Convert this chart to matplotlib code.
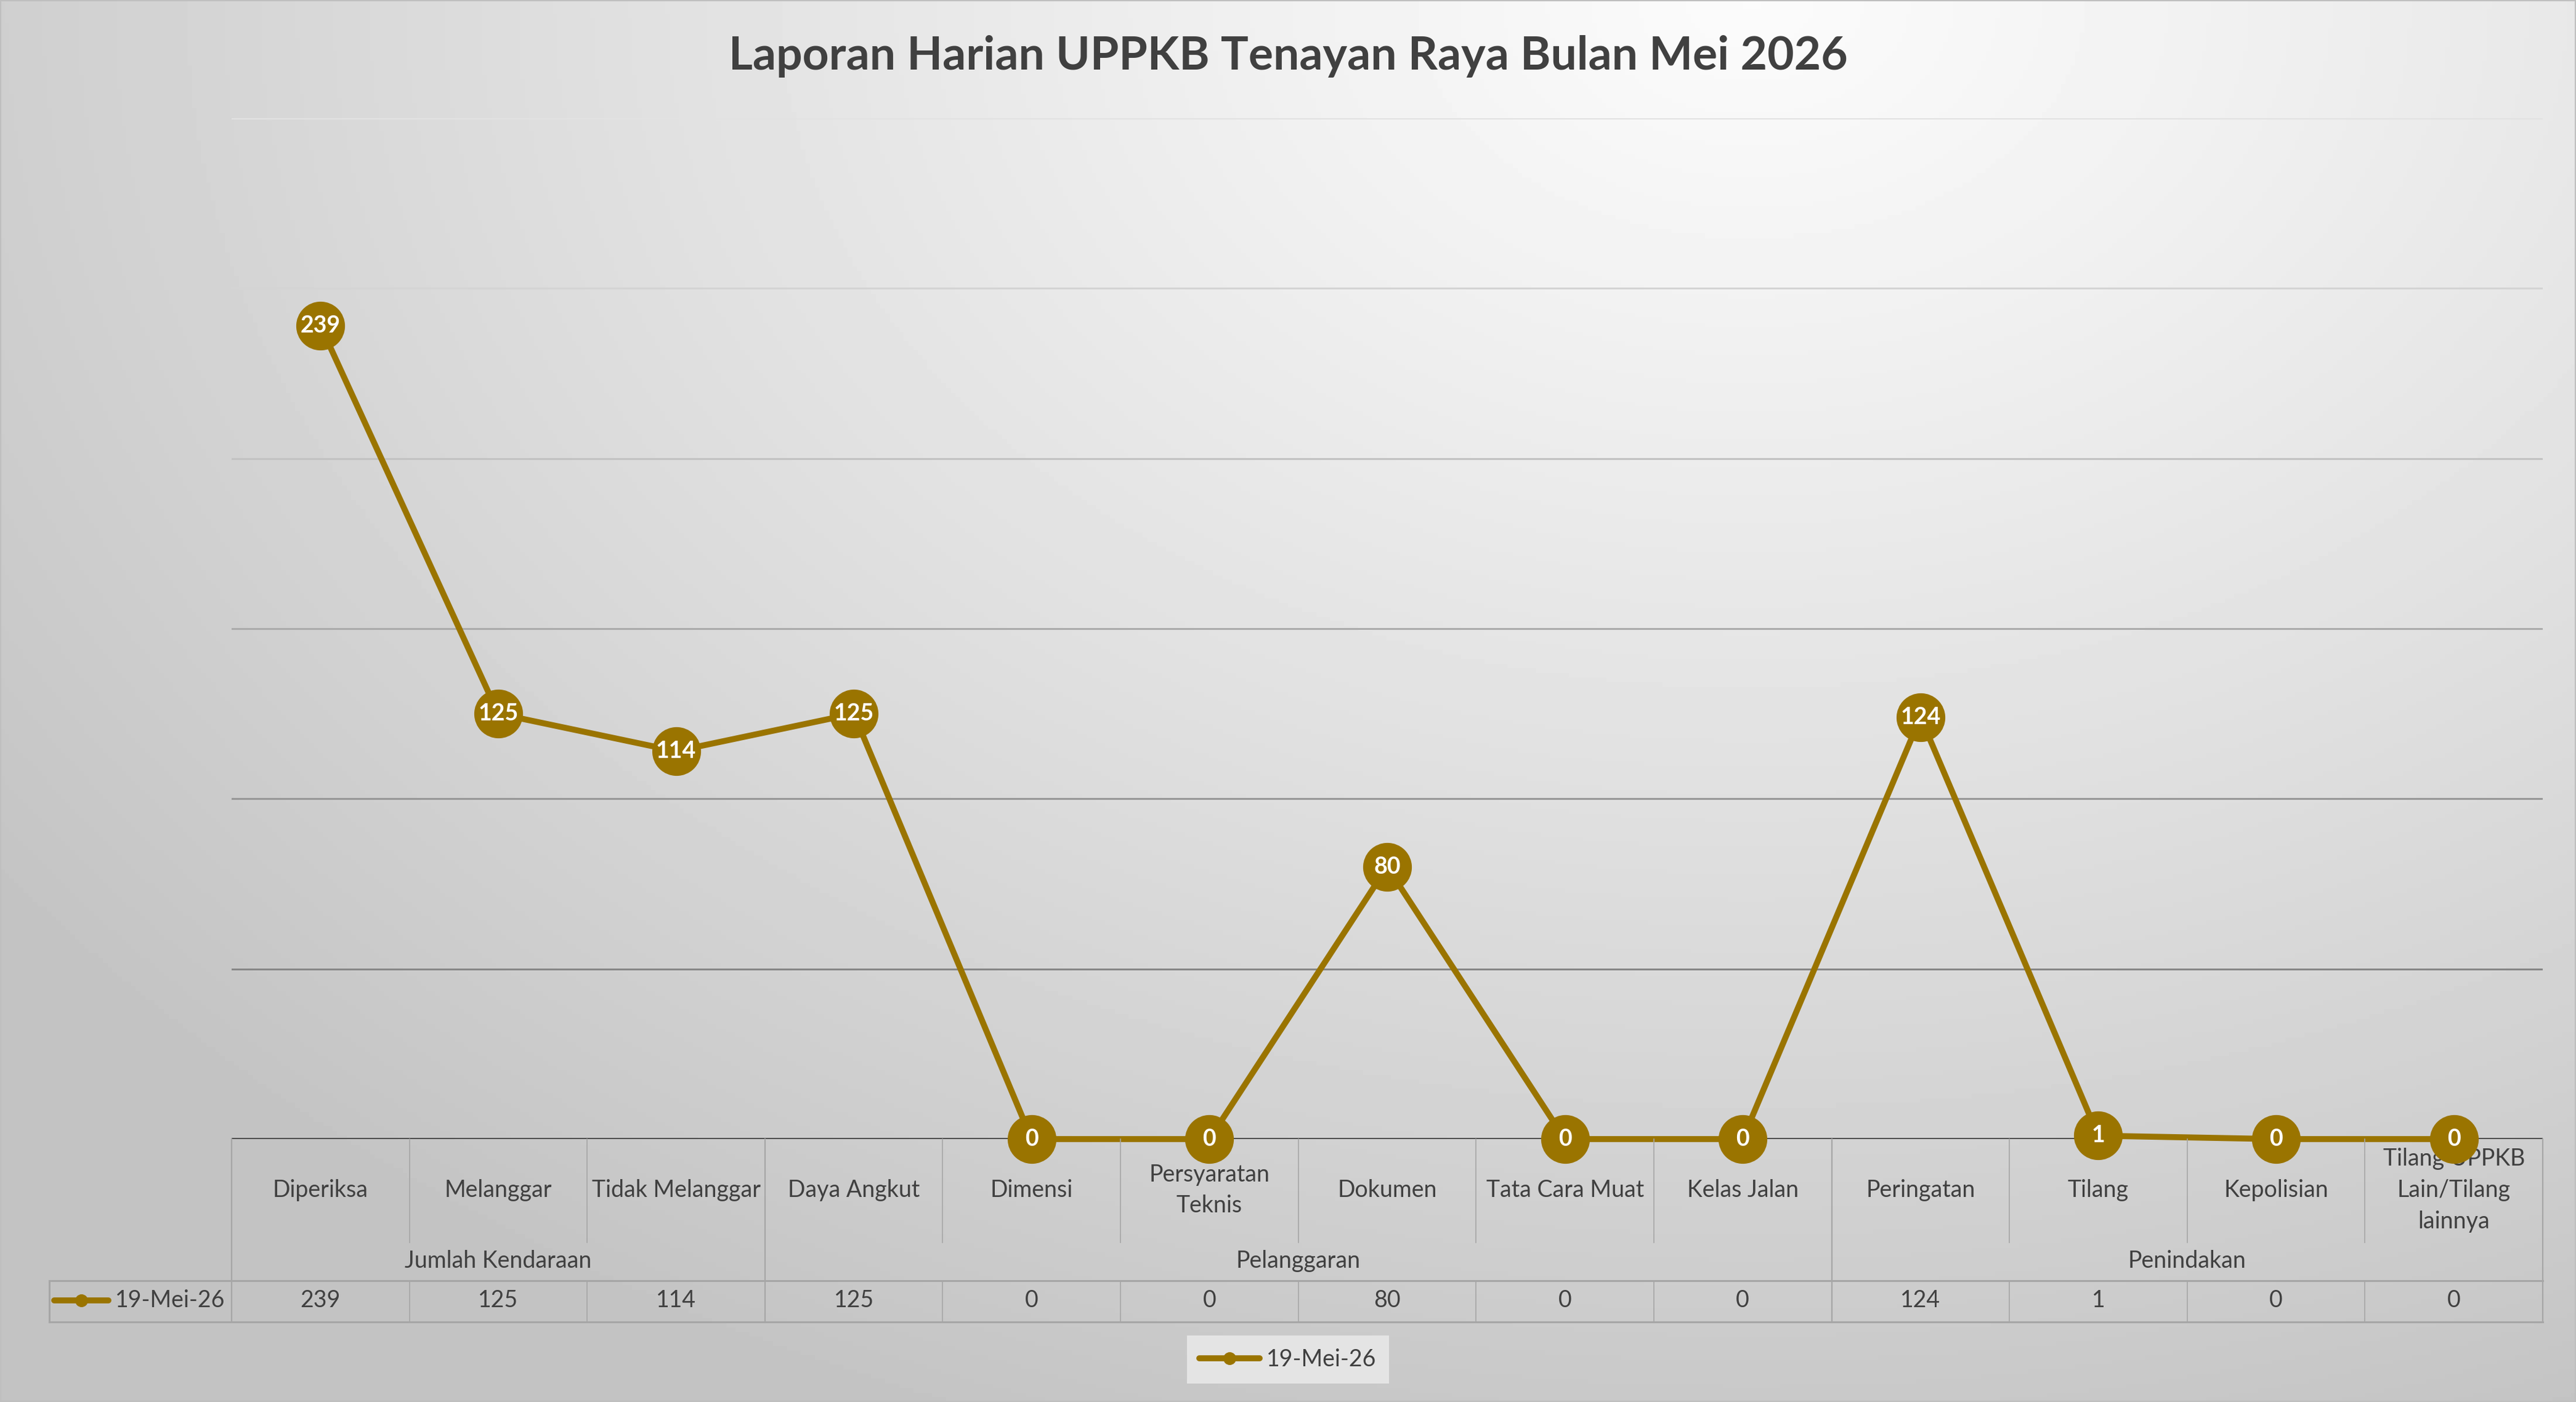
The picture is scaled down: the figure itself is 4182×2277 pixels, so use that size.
import numpy as np
import matplotlib
matplotlib.use("Agg")
import matplotlib.pyplot as plt
from matplotlib.lines import Line2D
from matplotlib.patches import Rectangle
from matplotlib.transforms import blended_transform_factory

plt.rcParams['font.family'] = ['Lato', 'DejaVu Sans']

# data
title = "Laporan Harian UPPKB Tenayan Raya Bulan Mei 2026"
series_name = "19-Mei-26"
categories = ["Diperiksa", "Melanggar", "Tidak Melanggar", "Daya Angkut", "Dimensi",
              "Persyaratan\nTeknis", "Dokumen", "Tata Cara Muat", "Kelas Jalan",
              "Peringatan", "Tilang", "Kepolisian", "Tilang UPPKB\nLain/Tilang\nlainnya"]
groups = ["Jumlah Kendaraan", "Pelanggaran", "Penindakan"]
group_sizes = [3, 6, 4]
values = [239, 125, 114, 125, 0, 0, 80, 0, 0, 124, 1, 0, 0]

gold = '#9a7400'
txt = '#404040'
grid_cols = ['#888888', '#979797', '#ababab', '#c2c2c2', '#d4d4d4', '#e2e2e2']

W, H = 4182, 2277
fig = plt.figure(figsize=(W / 100, H / 100), dpi=100)

# background gradient
bg = fig.add_axes([0, 0, 1, 1], zorder=-10)
yy, xx = np.mgrid[0:1:300j, 0:1:550j]
d = np.sqrt(((xx - 0.68) * 1.3) ** 2 + ((yy - 0.0) * 1.0) ** 2)
img = 0.985 - 0.22 * np.clip(d / 1.1, 0, 1) ** 1.1
bg.imshow(img, cmap='gray', vmin=0, vmax=1, aspect='auto', extent=[0, 1, 0, 1])
bg.set_axis_off()
fig.patches.append(Rectangle((0, 0), 1, 1, transform=fig.transFigure, fill=False,
                             edgecolor='#bfbfbf', lw=3))

ax = fig.add_axes([376 / W, 1 - 1850 / H, (4128 - 376) / W, (1850 - 192) / H])
ax.set_facecolor('none')
x = np.arange(len(categories))
ax.set_xlim(-0.5, len(categories) - 0.5)
ax.set_ylim(0, 300)
for i, gy in enumerate(range(50, 301, 50)):
    ax.axhline(gy, color=grid_cols[i], lw=2.2, zorder=1)
for s in ax.spines.values():
    s.set_visible(False)
ax.set_xticks([])
ax.set_yticks([])

ax.plot(x, values, color=gold, lw=7, marker='o', markersize=56, zorder=4,
        solid_capstyle='round', clip_on=False)
for xi, v in zip(x, values):
    ax.text(xi, v, str(v), ha='center', va='center', color='white', fontsize=27,
            fontweight='bold', zorder=5, clip_on=False)
ax.axhline(0, color='#4a4a4a', lw=3.5, zorder=3)
ax.axhline(-1.2, color='#8a8a8a', lw=1.5, zorder=3)

fig.text(0.5, 0.96, title, ha='center', va='center', fontsize=54, fontweight='bold', color=txt)

# data table under the axis
tr = blended_transform_factory(ax.transData, fig.transFigure)
y_axis = 1 - 1850 / H
y_catbot = 1 - 2018 / H
y_grp = 1 - 2048 / H
y_rowtop = 1 - 2080 / H
y_rowtxt = 1 - 2112 / H
y_rowbot = 1 - 2147 / H
y_cat = 1 - 1933 / H
lc = '#a6a6a6'
fs = 27

edges = np.concatenate([[0], np.cumsum(group_sizes)]) - 0.5
for b in range(len(categories) + 1):
    xb = b - 0.5
    if xb in edges:
        fig.add_artist(Line2D([xb, xb], [y_axis, y_rowbot], transform=tr, color=lc, lw=1.6))
    else:
        fig.add_artist(Line2D([xb, xb], [y_axis, y_catbot], transform=tr, color=lc, lw=1.2))
        fig.add_artist(Line2D([xb, xb], [y_rowtop, y_rowbot], transform=tr, color=lc, lw=1.2))

for xi, c in zip(x, categories):
    ax.text(xi, y_cat, c, transform=tr, ha='center', va='center', fontsize=fs,
            color=txt, linespacing=1.5)
for g, a, b in zip(groups, edges[:-1], edges[1:]):
    ax.text((a + b) / 2, y_grp, g, transform=tr, ha='center', va='center', fontsize=fs, color=txt)
for xi, v in zip(x, values):
    ax.text(xi, y_rowtxt, str(v), transform=tr, ha='center', va='center', fontsize=fs, color=txt)

x_left = 80 / W
x_right = 4128 / W
for yl in (y_rowtop, y_rowbot):
    fig.add_artist(Line2D([x_left, x_right], [yl, yl], transform=fig.transFigure, color=lc, lw=2.2))
fig.add_artist(Line2D([x_left, x_left], [y_rowtop, y_rowbot], transform=fig.transFigure, color=lc, lw=2.2))
fig.add_artist(Line2D([88 / W, 176 / W], [y_rowtxt, y_rowtxt], transform=fig.transFigure,
                      color=gold, lw=7, solid_capstyle='round'))
fig.add_artist(Line2D([132 / W], [y_rowtxt], transform=fig.transFigure, color=gold,
                      marker='o', markersize=14))
fig.text(187 / W, y_rowtxt, series_name, ha='left', va='center', fontsize=fs, color=txt)

# legend
handle = Line2D([], [], color=gold, lw=7, marker='o', markersize=14, solid_capstyle='round')
leg = fig.legend([handle], [series_name], loc='center', bbox_to_anchor=(0.5, 1 - 2208 / H),
                 fontsize=fs, frameon=True, fancybox=False, handlelength=2.6, handletextpad=0.3,
                 borderpad=0.55)
leg.get_frame().set_facecolor('#e4e4e4')
leg.get_frame().set_edgecolor('none')
leg.get_frame().set_alpha(1)
for t in leg.get_texts():
    t.set_color(txt)

fig.savefig('out.png', dpi=100)
